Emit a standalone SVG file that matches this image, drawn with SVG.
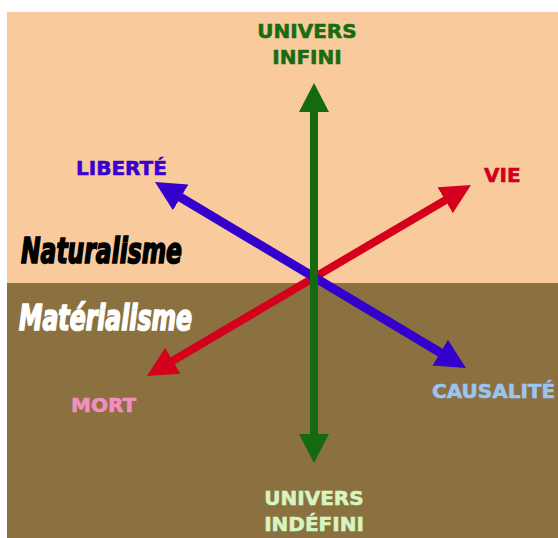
<svg xmlns="http://www.w3.org/2000/svg" width="558" height="538" viewBox="0 0 558 538">
<style>
.lbl{font-family:"DejaVu Sans","Verdana",sans-serif;font-weight:bold;font-size:20px;stroke-width:0.6}
.big{font-family:"DejaVu Sans Condensed","DejaVu Sans",sans-serif;font-weight:bold;font-style:italic;font-size:35px;stroke-width:1.6}
</style>
<defs>
<marker id="hg" markerUnits="userSpaceOnUse" markerWidth="30" markerHeight="30" refX="4" refY="15" orient="auto-start-reverse"><path d="M0,0 L29,15 L0,30 z" fill="#15690F"/></marker>
<marker id="hb" markerUnits="userSpaceOnUse" markerWidth="31" markerHeight="30" refX="5" refY="15" orient="auto-start-reverse"><path d="M0,0 L30,15 L0,30 z" fill="#3300CC"/></marker>
<marker id="hr" markerUnits="userSpaceOnUse" markerWidth="31" markerHeight="30" refX="5" refY="15" orient="auto-start-reverse"><path d="M0,0 L30,15 L0,30 z" fill="#D5001C"/></marker>
</defs>
<rect x="0" y="0" width="558" height="538" fill="#FFFFFF"/>
<rect x="7" y="12" width="551" height="271" fill="#F9CB9C"/>
<rect x="7" y="283" width="551" height="255" fill="#8B7140"/>
<g id="zones">
<text class="big" x="21" y="263" fill="#000000" stroke="#000000" textLength="161" lengthAdjust="spacingAndGlyphs">Naturalisme</text>
<text class="big" x="19" y="330" fill="#FFFFFF" stroke="#FFFFFF" textLength="173" lengthAdjust="spacingAndGlyphs">Matérialisme</text>
</g>
<g id="connectors">
<line x1="449.5" y1="197.7" x2="168.5" y2="363.3" stroke="#D5001C" stroke-width="8" marker-start="url(#hr)" marker-end="url(#hr)"/>
<line x1="176.4" y1="194.8" x2="444.5" y2="355.2" stroke="#3300CC" stroke-width="9" marker-start="url(#hb)" marker-end="url(#hb)"/>
<line x1="314" y1="108" x2="314" y2="438" stroke="#15690F" stroke-width="8" marker-start="url(#hg)" marker-end="url(#hg)"/>
</g>
<g id="n-infini"><text class="lbl" x="307" y="38" text-anchor="middle" fill="#1A6B12" stroke="#1A6B12">UNIVERS</text><text class="lbl" x="307" y="64" text-anchor="middle" fill="#1A6B12" stroke="#1A6B12">INFINI</text></g>
<g id="n-liberte"><text class="lbl" x="76" y="175" fill="#3A00D0" stroke="#3A00D0">LIBERTÉ</text></g>
<g id="n-vie"><text class="lbl" x="484" y="182" fill="#D0001C" stroke="#D0001C">VIE</text></g>
<g id="n-mort"><text class="lbl" x="71" y="412" fill="#F38FC0" stroke="#F38FC0">MORT</text></g>
<g id="n-causalite"><text class="lbl" x="432" y="398" fill="#9DC3F0" stroke="#9DC3F0">CAUSALITÉ</text></g>
<g id="n-indefini"><text class="lbl" x="314" y="505" text-anchor="middle" fill="#D6F5C0" stroke="#D6F5C0">UNIVERS</text><text class="lbl" x="314" y="531" text-anchor="middle" fill="#D6F5C0" stroke="#D6F5C0">INDÉFINI</text></g>
</svg>
